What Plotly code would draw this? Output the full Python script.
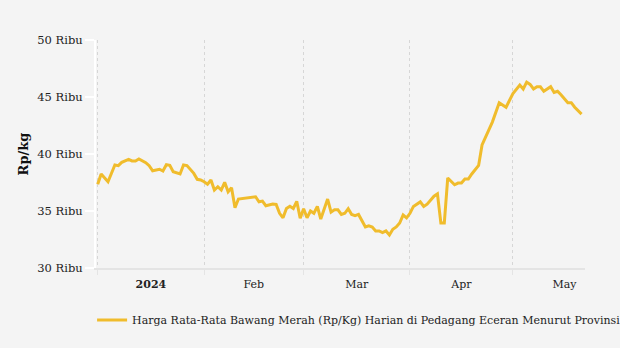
import plotly.graph_objects as go

dates = [
    "2024-01-01", "2024-01-02", "2024-01-04", "2024-01-06", "2024-01-07", "2024-01-08",
    "2024-01-10", "2024-01-11", "2024-01-12", "2024-01-13", "2024-01-15", "2024-01-16",
    "2024-01-17", "2024-01-19", "2024-01-20", "2024-01-21", "2024-01-22", "2024-01-23",
    "2024-01-25", "2024-01-26", "2024-01-27", "2024-01-29", "2024-01-30", "2024-01-31",
    "2024-02-01", "2024-02-02", "2024-02-03", "2024-02-04", "2024-02-05", "2024-02-06",
    "2024-02-07", "2024-02-08", "2024-02-09", "2024-02-10", "2024-02-11", "2024-02-14",
    "2024-02-15", "2024-02-16", "2024-02-17", "2024-02-18", "2024-02-19", "2024-02-21",
    "2024-02-22", "2024-02-23", "2024-02-24", "2024-02-25", "2024-02-26", "2024-02-27",
    "2024-02-28", "2024-02-29", "2024-03-01", "2024-03-02", "2024-03-03", "2024-03-04",
    "2024-03-05", "2024-03-06", "2024-03-08", "2024-03-09", "2024-03-10", "2024-03-11",
    "2024-03-12", "2024-03-13", "2024-03-14", "2024-03-15", "2024-03-16", "2024-03-17",
    "2024-03-19", "2024-03-20", "2024-03-21", "2024-03-22", "2024-03-23", "2024-03-24",
    "2024-03-25", "2024-03-26", "2024-03-27", "2024-03-28", "2024-03-29", "2024-03-30",
    "2024-03-31", "2024-04-01", "2024-04-02", "2024-04-03", "2024-04-04", "2024-04-05",
    "2024-04-06", "2024-04-08", "2024-04-09", "2024-04-10", "2024-04-11", "2024-04-12",
    "2024-04-14", "2024-04-15", "2024-04-16", "2024-04-17", "2024-04-18", "2024-04-19",
    "2024-04-21", "2024-04-22", "2024-04-23", "2024-04-25", "2024-04-27", "2024-04-29",
    "2024-05-01", "2024-05-03", "2024-05-04", "2024-05-05", "2024-05-06", "2024-05-07",
    "2024-05-08", "2024-05-09", "2024-05-10", "2024-05-12", "2024-05-13", "2024-05-14",
    "2024-05-15", "2024-05-16", "2024-05-17", "2024-05-18", "2024-05-19", "2024-05-21",
]

prices = [
    37350, 38250, 37570, 39040, 38980, 39270,
    39530, 39390, 39390, 39560, 39240, 38970,
    38530, 38660, 38510, 39060, 39000, 38450,
    38250, 39040, 38980, 38300, 37780, 37720,
    37570, 37350, 37720, 36840, 37130, 36840,
    37520, 36690, 37040, 35290, 36050, 36200,
    36250, 36250, 35810, 35870, 35460, 35610,
    35580, 34800, 34400, 35220, 35420, 35220,
    35850, 34360, 35200, 34400, 35000, 34800,
    35400, 34300, 36050, 34900, 35100, 35100,
    34700, 34800, 35200, 34700, 34600, 34700,
    33600, 33700, 33600, 33250, 33250, 33100,
    33250, 32900, 33400, 33600, 33950, 34650,
    34400, 34800, 35400, 35600, 35800, 35400,
    35600, 36300, 36500, 33950, 33950, 37900,
    37300, 37450, 37450, 37800, 37800, 38250,
    39000, 40800, 41500, 42800, 44500, 44100,
    45300, 46050, 45700, 46300, 46100, 45700,
    45900, 45900, 45500, 45900, 45400, 45500,
    45200, 44800, 44500, 44500, 44100, 43500,
]

series_name = "Harga Rata-Rata Bawang Merah (Rp/Kg) Harian di Pedagang Eceran Menurut Provinsi"
first_month_label = "<b>2024</b>"
y_ticks = [30000, 35000, 40000, 45000, 50000]
y_labels = ["30 Ribu", "35 Ribu", "40 Ribu", "45 Ribu", "50 Ribu"]

fig = go.Figure()
fig.add_trace(go.Scatter(
    x=dates, y=prices, mode="lines", name=series_name,
    line=dict(color="#f0bc2c", width=3),
))

fig.update_layout(
    width=620, height=348,
    margin=dict(l=96, r=35, t=40, b=80, autoexpand=False),
    paper_bgcolor="#f4f4f4", plot_bgcolor="#f4f4f4",
    font=dict(family="DejaVu Serif", size=11, color="#222222"),
    showlegend=True,
    legend=dict(
        orientation="h", x=-0.008, xanchor="left", y=-0.228, yanchor="middle",
        bgcolor="rgba(0,0,0,0)", font=dict(size=11, color="#222222"),
    ),
    xaxis=dict(
        type="date", range=["2023-12-31 12:00", "2024-05-22"],
        tickmode="linear", tick0="2024-01-01", dtick="M1",
        tickformat="%b", ticklabelmode="period",
        labelalias={"Jan": first_month_label},
        showgrid=True, gridcolor="#d6d6d6", griddash="dot", gridwidth=1,
        showline=True, linecolor="#e4e4e4", linewidth=2,
        ticks="outside", ticklen=5, tickcolor="#e4e4e4",
        tickfont=dict(size=11, color="#222222"),
        zeroline=False,
    ),
    yaxis=dict(
        range=[30000, 50000], tickvals=y_ticks, ticktext=y_labels,
        showgrid=False, zeroline=False,
        showline=True, linecolor="#ffffff", linewidth=2,
        ticks="outside", ticklen=9, tickwidth=2, tickcolor="#ffffff",
        tickfont=dict(size=11.5, color="#222222"),
        title=dict(text="<b>Rp/kg</b>", font=dict(size=13, color="#111111"), standoff=6),
    ),
)

fig.write_html("out.html")
